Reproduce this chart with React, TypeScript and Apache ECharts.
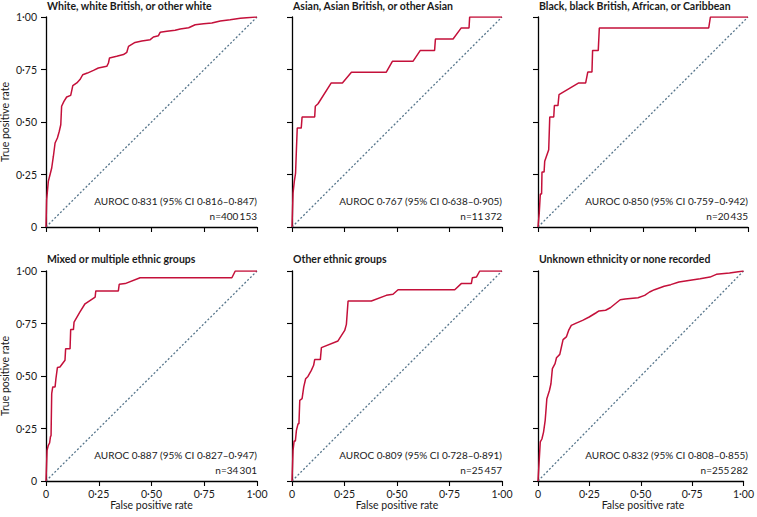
import React, { useEffect, useRef } from "react";
import * as echarts from "echarts";

const PANEL_TITLES = [
  "White, white British, or other white",
  "Asian, Asian British, or other Asian",
  "Black, black British, African, or Caribbean",
  "Mixed or multiple ethnic groups",
  "Other ethnic groups",
  "Unknown ethnicity or none recorded",
];

const AUROC_LABELS = [
  "AUROC 0·831 (95% CI 0·816–0·847)",
  "AUROC 0·767 (95% CI 0·638–0·905)",
  "AUROC 0·850 (95% CI 0·759–0·942)",
  "AUROC 0·887 (95% CI 0·827–0·947)",
  "AUROC 0·809 (95% CI 0·728–0·891)",
  "AUROC 0·832 (95% CI 0·808–0·855)",
];

const N_LABELS = [
  "n=400\u2009153",
  "n=11\u2009372",
  "n=20\u2009435",
  "n=34\u2009301",
  "n=25\u2009457",
  "n=255\u2009282",
];

const TICKS = [0, 0.25, 0.5, 0.75, 1];

const rocWhite = [
  [0, 0], [0.003, 0.13], [0.011, 0.217], [0.019, 0.249], [0.027, 0.281], [0.035, 0.337],
  [0.043, 0.4], [0.054, 0.424], [0.063, 0.456], [0.07, 0.487], [0.074, 0.575], [0.085, 0.598],
  [0.098, 0.619], [0.117, 0.627], [0.123, 0.654], [0.127, 0.673], [0.146, 0.686], [0.161, 0.702],
  [0.174, 0.725], [0.196, 0.733], [0.225, 0.746], [0.248, 0.757], [0.288, 0.765], [0.296, 0.781],
  [0.301, 0.805], [0.335, 0.813], [0.367, 0.821], [0.383, 0.832], [0.391, 0.86], [0.422, 0.879],
  [0.454, 0.886], [0.494, 0.892], [0.509, 0.905], [0.533, 0.911], [0.541, 0.927], [0.573, 0.932],
  [0.612, 0.937], [0.636, 0.943], [0.676, 0.949], [0.707, 0.963], [0.747, 0.968], [0.786, 0.971],
  [0.826, 0.981], [0.873, 0.987], [0.921, 0.994], [1, 1],
];

const rocAsian = [
  [0, 0], [0.005, 0.162], [0.011, 0.217], [0.017, 0.257], [0.021, 0.368], [0.025, 0.471],
  [0.044, 0.471], [0.048, 0.524], [0.108, 0.524], [0.111, 0.575], [0.124, 0.587], [0.187, 0.686],
  [0.24, 0.686], [0.283, 0.737], [0.449, 0.737], [0.478, 0.789], [0.576, 0.789], [0.611, 0.841],
  [0.679, 0.841], [0.683, 0.895], [0.767, 0.895], [0.806, 0.948], [0.843, 0.948], [0.846, 1], [1, 1],
];

const rocBlack = [
  [0, 0], [0.006, 0.067], [0.011, 0.157], [0.017, 0.157], [0.019, 0.262], [0.029, 0.262],
  [0.032, 0.313], [0.051, 0.368], [0.056, 0.524], [0.075, 0.524], [0.078, 0.578], [0.095, 0.578],
  [0.1, 0.63], [0.194, 0.686], [0.227, 0.686], [0.237, 0.738], [0.257, 0.738], [0.26, 0.841],
  [0.287, 0.841], [0.292, 0.948], [0.813, 0.948], [0.821, 1], [1, 1],
];

const rocMixed = [
  [0, 0], [0.005, 0.146], [0.011, 0.17], [0.017, 0.181], [0.021, 0.21], [0.024, 0.217],
  [0.027, 0.416], [0.032, 0.448], [0.043, 0.448], [0.047, 0.487], [0.054, 0.54], [0.066, 0.543],
  [0.09, 0.575], [0.093, 0.63], [0.114, 0.63], [0.117, 0.721], [0.13, 0.721], [0.133, 0.757],
  [0.161, 0.805], [0.185, 0.844], [0.233, 0.876], [0.236, 0.905], [0.343, 0.905], [0.347, 0.937],
  [0.375, 0.94], [0.446, 0.968], [0.881, 0.968], [0.897, 1], [1, 1],
];

const rocOther = [
  [0, 0], [0.005, 0.146], [0.01, 0.19], [0.016, 0.19], [0.021, 0.241], [0.029, 0.273],
  [0.033, 0.273], [0.037, 0.384], [0.048, 0.392], [0.056, 0.448], [0.065, 0.487], [0.076, 0.498],
  [0.092, 0.527], [0.103, 0.551], [0.108, 0.578], [0.135, 0.578], [0.14, 0.635], [0.219, 0.667],
  [0.251, 0.717], [0.259, 0.746], [0.267, 0.857], [0.378, 0.857], [0.449, 0.884], [0.481, 0.889],
  [0.505, 0.911], [0.775, 0.911], [0.806, 0.94], [0.854, 0.94], [0.859, 0.968], [0.878, 0.971],
  [0.894, 1], [1, 1],
];

const rocUnknown = [
  [0, 0], [0.005, 0.083], [0.011, 0.186], [0.019, 0.2], [0.027, 0.233], [0.035, 0.289],
  [0.04, 0.352], [0.043, 0.392], [0.056, 0.432], [0.063, 0.463], [0.07, 0.535], [0.083, 0.559],
  [0.09, 0.587], [0.106, 0.603], [0.114, 0.638], [0.122, 0.673], [0.138, 0.686], [0.149, 0.717],
  [0.162, 0.741], [0.186, 0.752], [0.217, 0.765], [0.249, 0.781], [0.281, 0.8], [0.297, 0.81],
  [0.329, 0.813], [0.352, 0.825], [0.376, 0.844], [0.4, 0.863], [0.424, 0.867], [0.487, 0.873],
  [0.519, 0.884], [0.543, 0.9], [0.567, 0.911], [0.614, 0.927], [0.646, 0.935], [0.686, 0.948],
  [0.741, 0.956], [0.789, 0.963], [0.837, 0.971], [0.868, 0.984], [0.932, 0.99], [1, 1],
];

const ROC_SERIES = [rocWhite, rocAsian, rocBlack, rocMixed, rocOther, rocUnknown];
const DIAGONAL = [[0, 0], [1, 1]];

const FONT = "Lato, 'Noto Sans', sans-serif";
const RED = "#c4103a";
const DIAG = "#56758b";
const TEXT = "#1a1a1a";

const COL_LEFT = [46, 292, 538];
const COL_WIDTH = [211, 210, 210];
const ROW_TOP = [17, 271];
const PLOT_H = 210;

const fmt = (v: number) => (v === 0 ? "0" : v.toFixed(2).replace(".", "·"));

export default function App() {
  const ref = useRef<HTMLDivElement>(null);

  useEffect(() => {
    if (!ref.current) return;
    const chart = echarts.init(ref.current, null, { renderer: "svg" });

    const grids: any[] = [];
    const xAxes: any[] = [];
    const yAxes: any[] = [];
    const series: any[] = [];
    const graphics: any[] = [];

    for (let i = 0; i < 6; i++) {
      const row = Math.floor(i / 3);
      const col = i % 3;
      const left = COL_LEFT[col];
      const width = COL_WIDTH[col];
      const top = ROW_TOP[row];
      grids.push({ left, top, width, height: PLOT_H, containLabel: false });
      const axisCommon = {
        gridIndex: i,
        type: "value",
        min: TICKS[0],
        max: TICKS[TICKS.length - 1],
        interval: TICKS[1] - TICKS[0],
        splitLine: { show: false },
        axisLine: { show: true, onZero: false, lineStyle: { color: "#000", width: 1.3 } },
        axisTick: { show: true, length: 5, inside: false, lineStyle: { color: "#000", width: 1.1 } },
      };
      xAxes.push({
        ...axisCommon,
        axisLabel: {
          show: row === 1,
          formatter: fmt,
          fontSize: 10.5,
          fontFamily: FONT,
          color: TEXT,
          margin: 7,
          showMinLabel: true,
          showMaxLabel: true,
        },
      });
      yAxes.push({
        ...axisCommon,
        axisLabel: {
          show: col === 0,
          formatter: fmt,
          fontSize: 10.5,
          fontFamily: FONT,
          color: TEXT,
          margin: 9,
          showMinLabel: true,
          showMaxLabel: true,
        },
      });
      series.push({
        type: "line",
        xAxisIndex: i,
        yAxisIndex: i,
        data: DIAGONAL,
        showSymbol: false,
        symbol: "none",
        silent: true,
        lineStyle: { color: DIAG, width: 1.3, type: [2, 2] },
        z: 1,
      });
      series.push({
        type: "line",
        xAxisIndex: i,
        yAxisIndex: i,
        data: ROC_SERIES[i],
        showSymbol: false,
        symbol: "none",
        silent: true,
        lineStyle: { color: RED, width: 1.5 },
        z: 2,
      });

      graphics.push({
        type: "text",
        x: left + 1,
        y: row === 0 ? 6 : 259,
        style: {
          text: PANEL_TITLES[i],
          fill: TEXT,
          fontSize: 10.5,
          fontWeight: "bold",
          fontFamily: FONT,
          align: "left",
          verticalAlign: "middle",
        },
      });
      graphics.push({
        type: "text",
        x: left + width,
        y: top + PLOT_H - 26,
        style: {
          text: AUROC_LABELS[i],
          fill: TEXT,
          fontSize: 10,
          fontFamily: FONT,
          align: "right",
          verticalAlign: "middle",
        },
      });
      graphics.push({
        type: "text",
        x: left + width,
        y: top + PLOT_H - 11,
        style: {
          text: N_LABELS[i],
          fill: TEXT,
          fontSize: 10,
          fontFamily: FONT,
          align: "right",
          verticalAlign: "middle",
        },
      });
      if (row === 1) {
        graphics.push({
          type: "text",
          x: left + width / 2,
          y: 505,
          style: {
            text: "False positive rate",
            fill: TEXT,
            fontSize: 10.5,
            fontFamily: FONT,
            align: "center",
            verticalAlign: "middle",
          },
        });
      }
      if (col === 0) {
        graphics.push({
          type: "text",
          x: 5,
          y: top + PLOT_H / 2,
          rotation: Math.PI / 2,
          style: {
            text: "True positive rate",
            fill: TEXT,
            fontSize: 10.5,
            fontFamily: FONT,
            align: "center",
            verticalAlign: "middle",
          },
        });
      }
    }

    chart.setOption({
      animation: false,
      backgroundColor: "#ffffff",
      grid: grids,
      xAxis: xAxes,
      yAxis: yAxes,
      series,
      graphic: graphics,
    });

    return () => chart.dispose();
  }, []);

  return (
    <div
      ref={ref}
      style={{ position: "fixed", left: 0, top: 0, width: 757, height: 517, background: "#fff" }}
    />
  );
}
